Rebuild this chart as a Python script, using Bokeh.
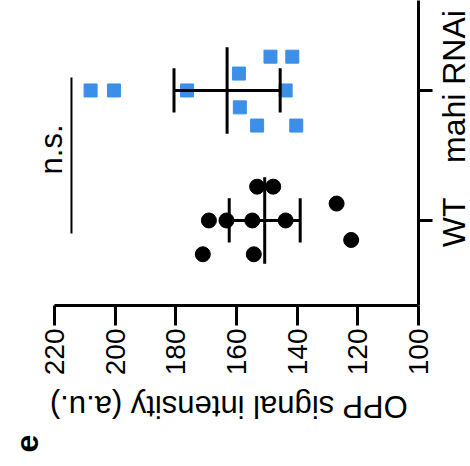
import math
from bokeh.plotting import figure
from bokeh.layouts import column, row
from bokeh.models import Range1d, FixedTicker, Label, ColumnDataSource
from bokeh.embed import file_html
from bokeh.resources import INLINE

# ---- data ----
categories = ["WT", "mahi RNAi"]
tick_values = [100, 120, 140, 160, 180, 200, 220]

wt_values = [153.2, 147.9, 169.1, 163.3, 154.8, 143.8, 171.1, 154.3, 127.0, 122.2]
wt_jitter = [0.26, 0.26, 0.0, 0.0, 0.0, 0.0, -0.26, -0.26, 0.13, -0.15]

mahi_values = [148.8, 141.6, 159.2, 176.3, 143.8, 158.9, 153.2, 140.3, 208.1, 200.4]
mahi_jitter = [0.26, 0.26, 0.13, 0.0, 0.0, -0.13, -0.27, -0.27, 0.0, 0.0]

group_means = [150.7, 163.1]
group_errors = [11.7, 17.5]

sig_value = 214.4
sig_text = "n.s."
axis_title = "OPP signal intensity (a.u.)"
panel_letter = "e"

FONT = "Liberation Sans"


def blank_fig(w, h, xr, yr):
    f = figure(width=w, height=h, output_backend="svg", toolbar_location=None,
               x_range=xr, y_range=yr,
               x_axis_type=None, y_axis_type=None,
               min_border=0, min_border_left=0, min_border_right=0,
               min_border_top=0, min_border_bottom=0)
    f.grid.visible = False
    f.outline_line_color = None
    f.background_fill_color = "white"
    f.border_fill_color = "white"
    return f


# ---- main chart ----
y_range = Range1d(-0.654, 1.692)
p = figure(width=434, height=382, output_backend="svg", toolbar_location=None,
           x_range=Range1d(237.8, 100), y_range=y_range,
           x_axis_location="below", y_axis_location="right",
           min_border_left=0, min_border_right=16, min_border_top=0,
           min_border_bottom=77)
p.outline_line_color = None
p.grid.visible = False
p.background_fill_color = "white"
p.border_fill_color = "white"

xa = p.xaxis[0]
xa.ticker = FixedTicker(ticks=tick_values)
xa.bounds = (min(tick_values), max(tick_values))
xa.axis_line_width = 3
xa.major_tick_line_width = 3
xa.major_tick_out = 20
xa.major_tick_in = 0
xa.minor_tick_line_color = None
xa.major_label_orientation = math.pi / 2
xa.major_label_standoff = 3
xa.major_label_text_font = FONT
xa.major_label_text_font_size = "28px"
xa.major_label_text_color = "black"

# category axis: tick marks only (names are set beside it, centred on the ticks)
ya = p.yaxis[0]
ya.ticker = FixedTicker(ticks=[], minor_ticks=[0, 1])
ya.axis_line_width = 3
ya.major_tick_line_color = None
ya.minor_tick_line_width = 3
ya.minor_tick_line_color = "black"
ya.minor_tick_out = 14
ya.minor_tick_in = 0
ya.major_label_standoff = 0

# points
wt_src = ColumnDataSource(dict(x=wt_values, y=[0 + j for j in wt_jitter]))
mahi_src = ColumnDataSource(dict(x=mahi_values, y=[1 + j for j in mahi_jitter]))
p.scatter("x", "y", source=wt_src, marker="circle", size=15, color="black")
p.scatter("x", "y", source=mahi_src, marker="square", size=13, color="#3b8fe8")

# mean and error bars
cats = [0, 1]
p.segment(x0=group_means, x1=group_means, y0=[c - 0.333 for c in cats],
          y1=[c + 0.333 for c in cats], line_width=3, color="black")
lo = [m - e for m, e in zip(group_means, group_errors)]
hi = [m + e for m, e in zip(group_means, group_errors)]
p.segment(x0=lo, x1=hi, y0=cats, y1=cats, line_width=3, color="black")
p.segment(x0=lo, x1=lo, y0=[c - 0.17 for c in cats], y1=[c + 0.17 for c in cats],
          line_width=3, color="black")
p.segment(x0=hi, x1=hi, y0=[c - 0.17 for c in cats], y1=[c + 0.17 for c in cats],
          line_width=3, color="black")

# significance bar and label
p.segment(x0=[sig_value], x1=[sig_value], y0=[-0.1], y1=[1.1], line_width=2, color="black")
p.add_layout(Label(x=220.9, y=0.546, text=sig_text, angle=math.pi / 2,
                   text_align="center", text_baseline="middle",
                   text_font=FONT, text_font_size="31px", text_color="black"))

# ---- category names, right of the category axis (shares the category range) ----
r = blank_fig(36, 382, Range1d(434, 470), y_range)
r.add_layout(Label(x=453, y=-0.015, text=categories[0], angle=math.pi / 2,
                   text_align="center", text_baseline="middle",
                   text_font=FONT, text_font_size="32px", text_color="black"))
r.add_layout(Label(x=453, y=1.03, text=categories[1], angle=math.pi / 2,
                   text_align="center", text_baseline="middle",
                   text_font=FONT, text_font_size="32px", text_color="black"))

# ---- strip below: axis title (upside down) and panel letter (pixel coordinates) ----
q = blank_fig(470, 84, Range1d(0, 470), Range1d(466, 382))
q.add_layout(Label(x=228, y=406, text=axis_title, angle=math.pi,
                   text_align="center", text_baseline="middle",
                   text_font=FONT, text_font_size="31px", text_color="black"))
q.add_layout(Label(x=26, y=443, text=panel_letter, angle=math.pi / 2,
                   text_align="center", text_baseline="middle",
                   text_font=FONT, text_font_style="bold",
                   text_font_size="32px", text_color="black"))

layout = column(row(p, r, spacing=0), q, spacing=0)
open("out.html", "w").write(file_html(layout, INLINE))
